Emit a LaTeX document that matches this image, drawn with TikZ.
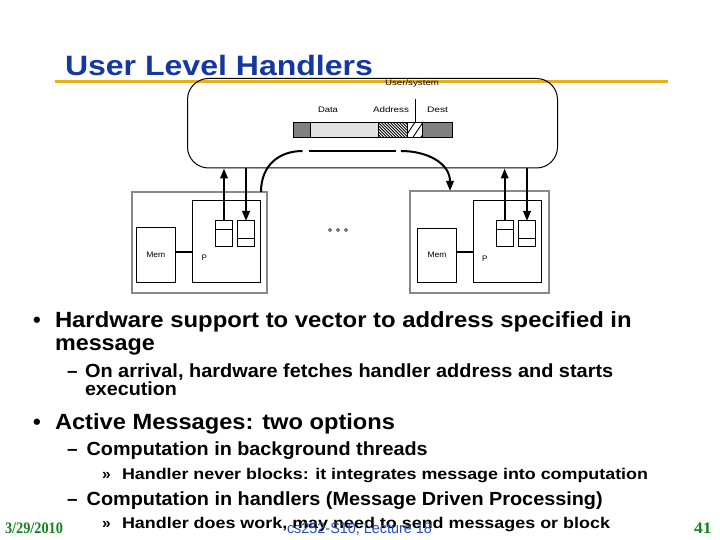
\documentclass[tikz,border=0pt]{standalone}
\usepackage{graphicx}
\usepackage{fontspec}
\setmainfont{Liberation Sans}
\newfontfamily\serifff{Liberation Serif}
\usetikzlibrary{arrows.meta}
\definecolor{titleblue}{RGB}{20,56,158}
\definecolor{gold}{RGB}{232,176,24}
\definecolor{footgreen}{RGB}{20,130,30}
\definecolor{footblue}{RGB}{40,80,190}
\definecolor{dgray}{RGB}{128,128,128}
\definecolor{lgray}{RGB}{226,226,226}
\definecolor{boxgray}{RGB}{136,136,136}
\newcommand\fw[2]{\resizebox{#1pt}{\height}{#2}}
\newcommand\mainf{\fontsize{22}{22}\selectfont\bfseries}
\newcommand\subf{\fontsize{19}{19}\selectfont\bfseries}
\newcommand\ssubf{\fontsize{15.5}{15.5}\selectfont\bfseries}
\newcommand\lblf{\fontsize{8}{8}\selectfont}
\begin{document}
\begin{tikzpicture}[x=1pt,y=-1pt,
  txt/.style={anchor=base west,inner sep=0pt,outer sep=0pt},
  box/.style={draw,line width=1pt,inner sep=0pt,outer sep=0pt,font=\lblf},
  outerbox/.style={draw=boxgray,line width=2.5pt,inner sep=0pt,outer sep=0pt},
  link/.style={line width=2pt},
  arr/.style={line width=2pt,-{Triangle[width=7.5pt,length=10pt]}},
  dotc/.style={circle,draw,line width=0.5pt,minimum size=3pt,inner sep=0pt}]
\useasboundingbox (0,0) rectangle (720,540);
\fill[white] (0,0) rectangle (720,540);

% title and rule
\draw[gold,line width=3pt] (55,81.5) -- (668,81.5);
\node[txt,font=\fontsize{28}{28}\selectfont\bfseries,text=titleblue] (title) at (65,76) {\fw{308}{User Level Handlers}};

% network
\node[draw,line width=1pt,rounded corners=21pt,minimum width=370,minimum height=89.5,inner sep=0pt] (net) at (372.5,123.25) {};
\node[txt,font=\lblf] (us) at (385,86) {\fw{54}{User/system}};
\node[txt,font=\lblf] (ld) at (318,112.3) {\fw{20}{Data}};
\node[txt,font=\lblf] (la) at (373,112.3) {\fw{36}{Address}};
\node[txt,font=\lblf] (lde) at (427,112.3) {\fw{21}{Dest}};

% packet
\fill[dgray] (293,122.3) rectangle (310,137.3);
\fill[lgray] (310,122.3) rectangle (378,137.3);
\fill[dgray] (422,122.3) rectangle (452,137.3);
\begin{scope}
\clip (378,122.3) rectangle (407,137.3);
\foreach \i in {0,...,15} \draw[line width=0.9pt] (363+3*\i,122.3) -- ++(15,15);
\end{scope}
\begin{scope}
\clip (407,122.3) rectangle (422,137.3);
\foreach \x in {397,405,413,421} \draw[line width=0.9pt] (\x,137.3) -- ++(10,-15);
\end{scope}
\node[draw,line width=0.9pt,minimum width=159,minimum height=15,inner sep=0pt] (pkt) at (372.5,129.8) {};
\coordinate (ustop) at (415.7,99);
\draw[line width=0.9pt] (ustop) -- (ustop |- pkt.north);
\draw[line width=0.9pt] (378,122.3) -- (378,137.3) (407,122.3) -- (407,137.3) (422,122.3) -- (422,137.3) (310,122.3) -- (310,137.3);

% left node
\node[outerbox,minimum width=135,minimum height=101] (outer1) at (199.5,242.5) {};
\node[box,minimum width=39.5,minimum height=54] (mem1) at (155.75,255) {\fw{19}{Mem}};
\node[box,minimum width=68.5,minimum height=81.5] (p1) at (226.25,241.25) {};
\node[txt,font=\lblf] (pl1) at (201.5,260.5) {P};
\node[box,minimum width=17,minimum height=25.5] (q1a) at (224,233.75) {};
\node[box,minimum width=17,minimum height=25.5] (q1b) at (246,233.75) {};
\draw[line width=1pt] ([yshift=-8.3pt]q1a.north west) -- ([yshift=-8.3pt]q1a.north east);
\draw[line width=1pt] ([yshift=8.3pt]q1b.south west) -- ([yshift=8.3pt]q1b.south east);
\draw[link] (mem1.east |- 0,252) -- (p1.west |- 0,252);
\draw[arr] (q1a.north) -- (q1a.north |- net.south);
\draw[arr] (q1b.north |- net.south) -- (q1b.north);

% right node
\node[outerbox,minimum width=139,minimum height=102] (outer2) at (479.5,242) {};
\node[box,minimum width=39.4,minimum height=53.7] (mem2) at (437,255.15) {\fw{19}{Mem}};
\node[box,minimum width=68.4,minimum height=81.7] (p2) at (507.5,241.15) {};
\node[txt,font=\lblf] (pl2) at (482,261) {P};
\node[box,minimum width=17.3,minimum height=25.7] (q2a) at (504.65,233.85) {};
\node[box,minimum width=17.3,minimum height=25.7] (q2b) at (527,233.85) {};
\draw[line width=1pt] ([yshift=-8.3pt]q2a.north west) -- ([yshift=-8.3pt]q2a.north east);
\draw[line width=1pt] ([yshift=8.3pt]q2b.south west) -- ([yshift=8.3pt]q2b.south east);
\draw[link] (mem2.east |- 0,252.3) -- (p2.west |- 0,252.3);
\draw[arr] (q2a.north) -- (q2a.north |- net.south);
\draw[arr] (q2b.north |- net.south) -- (q2b.north);

% ellipsis
\node[dotc] (e1) at (330,230) {};
\node[dotc] (e2) at (338,230) {};
\node[dotc] (e3) at (346,230) {};

% curved message path
\coordinate (a0) at ([xshift=-6pt]outer1.north east);
\coordinate (a1) at (302.5,151);
\coordinate (a2) at (308.5,151);
\coordinate (a3) at (396,151);
\coordinate (a4) at (401,151);
\coordinate (a5) at ([xshift=-29.5pt]outer2.north);
\draw[link] (a0) .. controls +(0,-28) and +(-22,0) .. (a1);
\draw[link] (a2) -- (a3);
\draw[arr] (a4) .. controls +(26,0) and +(0,-28) .. (a5);

% bullets
\node[txt,font=\mainf] (b1) at (33,327.7) {•};
\node[txt,font=\mainf] (t1) at (55,327.7) {\fw{576.7}{Hardware support to vector to address specified in}};
\node[txt,font=\mainf] (t2) at (55,350) {\fw{100}{message}};
\node[txt,font=\subf] (d1) at (67,377.7) {–};
\node[txt,font=\subf] (t3) at (85,377.7) {\fw{528.3}{On arrival, hardware fetches handler address and starts}};
\node[txt,font=\subf] (t4) at (85,395.7) {\fw{92}{execution}};
\node[txt,font=\mainf] (b2) at (33,429) {•};
\node[txt,font=\mainf] (t5) at (55,429) {\fw{340}{Active Messages: two options}};
\node[txt,font=\subf] (d2) at (67,455.7) {–};
\node[txt,font=\subf] (t6) at (86.7,455.7) {\fw{341}{Computation in background threads}};
\node[txt,font=\ssubf] (r1) at (102,479) {»};
\node[txt,font=\ssubf] (t7) at (122,479) {\fw{526}{Handler never blocks: it integrates message into computation}};
\node[txt,font=\subf] (d3) at (67,505) {–};
\node[txt,font=\subf] (t8) at (86.7,505) {\fw{516}{Computation in handlers (Message Driven Processing)}};
\node[txt,font=\ssubf] (r2) at (102,528.3) {»};
\node[txt,font=\ssubf] (t9) at (122,528.3) {\fw{488}{Handler does work, may need to send messages or block}};

% footer
\node[txt,font=\serifff\fontsize{16}{16}\selectfont\bfseries,text=footgreen] (date) at (5,533.5) {\fw{58}{3/29/2010}};
\node[txt,font=\serifff\fontsize{16}{16}\selectfont\bfseries,text=footgreen] (pg) at (694,533.5) {\fw{17.5}{41}};
\node[txt,font=\fontsize{15}{15}\selectfont,text=footblue] (lec) at (287,533.5) {\fw{145}{cs252-S10, Lecture 18}};
\end{tikzpicture}
\end{document}
